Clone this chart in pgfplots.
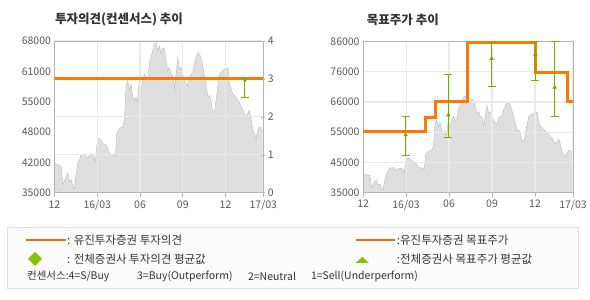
\documentclass[border=0pt]{standalone}
\usepackage{fontspec}
\setmainfont{Noto Sans CJK KR}
\usepackage{pgfplots}
\usepackage{pgfplotstable}
\pgfplotsset{compat=1.18}
\definecolor{fr}{HTML}{B4B4B4}
\definecolor{gridc}{HTML}{EAEAEA}
\definecolor{fillg}{HTML}{DFDFDF}
\definecolor{lineg}{HTML}{C2C2C2}
\definecolor{tickc}{HTML}{585858}
\definecolor{orc}{HTML}{FF7800}
\definecolor{orl}{HTML}{EC6C10}
\definecolor{grc}{HTML}{72B000}
\definecolor{grl}{HTML}{86C200}
\definecolor{txt}{HTML}{333333}

\pgfplotstableread{
m p
0.00 41457
0.23 41098
0.47 40739
0.54 38587
0.58 36794
0.82 38587
0.93 39304
1.05 37511
1.17 37870
1.28 36435
1.40 35861
1.52 39304
1.64 41457
1.75 42174
1.87 43250
2.10 43465
2.34 42533
2.45 43035
2.69 43250
2.87 41815
2.97 45402
3.15 46837
3.39 45761
3.62 45402
3.86 43609
4.09 43250
4.28 43035
4.37 47913
4.56 48989
4.79 49348
4.91 50783
5.02 58316
5.14 59392
5.26 57239
5.37 58674
5.49 55805
5.61 55087
5.72 55805
5.84 54729
5.96 60109
6.07 57239
6.19 59392
6.31 60826
6.43 59392
6.54 59750
6.66 63337
6.78 64413
6.89 65848
7.01 67283
7.13 67642
7.24 65848
7.36 66924
7.48 65131
7.59 66566
7.71 66207
7.83 63696
7.94 61544
8.06 62261
8.18 60826
8.29 60468
8.41 57598
8.53 60826
8.65 64413
8.76 61903
8.88 62261
9.00 60826
9.11 59392
9.23 58674
9.35 58316
9.46 60109
9.58 60826
9.70 61185
9.81 62979
9.93 64413
10.05 65490
10.16 65131
10.28 64413
10.40 62620
10.51 60468
10.63 58674
10.75 55805
10.86 56163
10.98 55087
11.10 52576
11.22 52576
11.33 55087
11.45 57957
11.57 60826
11.68 61185
11.80 61544
11.92 61903
12.03 61544
12.15 62261
12.27 58674
12.38 57598
12.50 56522
12.62 56163
12.73 55805
12.85 55087
12.97 54729
13.08 53652
13.20 53294
13.32 52218
13.44 51500
13.55 52218
13.67 52935
13.79 51142
13.90 48631
14.02 47913
14.14 46837
14.25 48631
14.37 49348
14.49 48989
14.60 48272
}\price

\begin{document}
\begin{tikzpicture}
\path (0,0) rectangle (590pt,-300pt);
\pgfplotsset{
  base/.style={
    scale only axis, set layers=standard,
    axis line style={draw=fr, line width=0.8pt},
    tick label style={font=\fontsize{10.5pt}{12pt}\selectfont, text=tickc},
    grid style={draw=gridc, line width=1.1pt},
    major tick length=4pt,
    xmin=0, xmax=14.65,
    scaled ticks=false,
  },
}
% ---------------- left chart ----------------
\begin{axis}[base, at={(54.5pt,-193pt)}, anchor=south west, width=209pt, height=152pt,
  ymin=35000, ymax=68000,
  ytick={35000,41600,48200,54800,61400,68000},
  yticklabels={35000,42000,48000,55000,61000,68000},
  ytick style={draw=none},
  xtick={0,3,6,9,12,14.65},
  xticklabels={12,16/03,06,09,12,17/03},
  xtick pos=left, xtick align=outside, xtick style={draw=fr, line width=0.8pt},
  xmajorgrids]
\addplot[fill=fillg, draw=none, on layer=axis background] table[x=m,y=p]{\price} \closedcycle;
\addplot[draw=lineg, line width=0.5pt, on layer=axis background] table[x=m,y=p]{\price};
\end{axis}
\begin{axis}[base, at={(54.5pt,-193pt)}, anchor=south west, width=209pt, height=152pt,
  ymin=0, ymax=4,
  axis x line=none, axis y line*=right,
  ytick={0,1,2,3,4}, yticklabels={0,1,2,3,4},
  ytick align=center, ytick style={draw=fr, line width=0.8pt},
  yticklabel style={xshift=-1pt},
  ymajorgrids]
\addplot[draw=orc, line width=3pt] coordinates {(0,3) (14.65,3)};
\addplot[draw=none, mark=diamond*, mark size=1.8pt, mark options={fill=grc, draw=grc},
  error bars/.cd, y dir=both, y explicit,
  error bar style={draw=grc, line width=1pt},
  error mark options={rotate=90, mark size=4pt, draw=grc, line width=1pt}]
  coordinates {(13.36,2.97) += (0,0.03) -= (0,0.47)};
\end{axis}
% ---------------- right chart ----------------
\begin{axis}[base, at={(363.3pt,-192.7pt)}, anchor=south west, width=210pt, height=151pt,
  ymin=35000, ymax=86000,
  ytick={35000,45200,55400,65600,75800,86000},
  yticklabels={35000,45000,55000,66000,76000,86000},
  ytick style={draw=none},
  xtick={0,3,6,9,12,14.65},
  xticklabels={12,16/03,06,09,12,17/03},
  xtick pos=left, xtick align=outside, xtick style={draw=fr, line width=0.8pt},
  xmajorgrids, ymajorgrids]
\addplot[fill=fillg, draw=none, on layer=axis background] table[x=m,y=p]{\price} \closedcycle;
\addplot[draw=lineg, line width=0.5pt, on layer=axis background] table[x=m,y=p]{\price};
\addplot[draw=orc, line width=3pt, line join=miter] coordinates {
  (0,55500) (4.39,55500) (4.39,60500) (5.02,60500) (5.02,65800) (7.31,65800)
  (7.31,85800) (12.03,85800) (12.03,75700) (14.26,75700) (14.26,65800) (14.65,65800)};
\addplot[draw=none, mark=triangle*, mark size=2.2pt, mark options={fill=grc, draw=grc},
  error bars/.cd, y dir=both, y explicit,
  error bar style={draw=grc, line width=1pt},
  error mark options={rotate=90, mark size=4pt, draw=grc, line width=1pt}]
  coordinates {
  (2.97,54500) += (0,6200) -= (0,6800)
  (5.96,61200) += (0,13800) -= (0,7500)
  (8.97,80300) += (0,5500) -= (0,9300)
  (12.03,81700) += (0,4200) -= (0,8700)
  (13.37,70600) += (0,15300) -= (0,9800)};
\end{axis}
% ---------------- titles ----------------
\node[anchor=west, font=\bfseries\fontsize{12.5pt}{14pt}\selectfont, text=txt, inner sep=0pt] at (55pt,-20pt) {투자의견(컨센서스) 추이};
\node[anchor=west, font=\bfseries\fontsize{12.5pt}{14pt}\selectfont, text=txt, inner sep=0pt] at (367pt,-20pt) {목표주가 추이};
% ---------------- legend ----------------
\draw[draw=black!13, fill=black!1.5, line width=1pt] (8pt,-228pt) rectangle (579pt,-289pt);
\draw[orl, line width=2pt] (26pt,-240pt) -- (66pt,-240pt);
\draw[orl, line width=2pt] (356pt,-240pt) -- (395pt,-240pt);
\fill[grl] (35pt,-252pt) -- (42pt,-259pt) -- (35pt,-266pt) -- (28pt,-259pt) -- cycle;
\fill[grl] (356pt,-263pt) -- (369pt,-263pt) -- (362.5pt,-257pt) -- cycle;
\begin{scope}[every node/.style={anchor=west, inner sep=0pt, text=txt, font=\fontsize{11.5pt}{13pt}\selectfont}]
\node at (67pt,-240pt) {: 유진투자증권 투자의견};
\node at (397pt,-240pt) {:유진투자증권 목표주가};
\node at (67pt,-259pt) {: 전체증권사 투자의견 평균값};
\node at (397pt,-259pt) {:전체증권사 목표주가 평균값};
\end{scope}
\begin{scope}[every node/.style={anchor=west, inner sep=0pt, text=txt, font=\fontsize{10.5pt}{12pt}\selectfont}]
\node at (27pt,-277pt) {컨센서스:4=S/Buy};
\node at (137pt,-277pt) {3=Buy(Outperform)};
\node at (248pt,-277pt) {2=Neutral};
\node at (311pt,-277pt) {1=Sell(Underperform)};
\end{scope}
\end{tikzpicture}
\end{document}
